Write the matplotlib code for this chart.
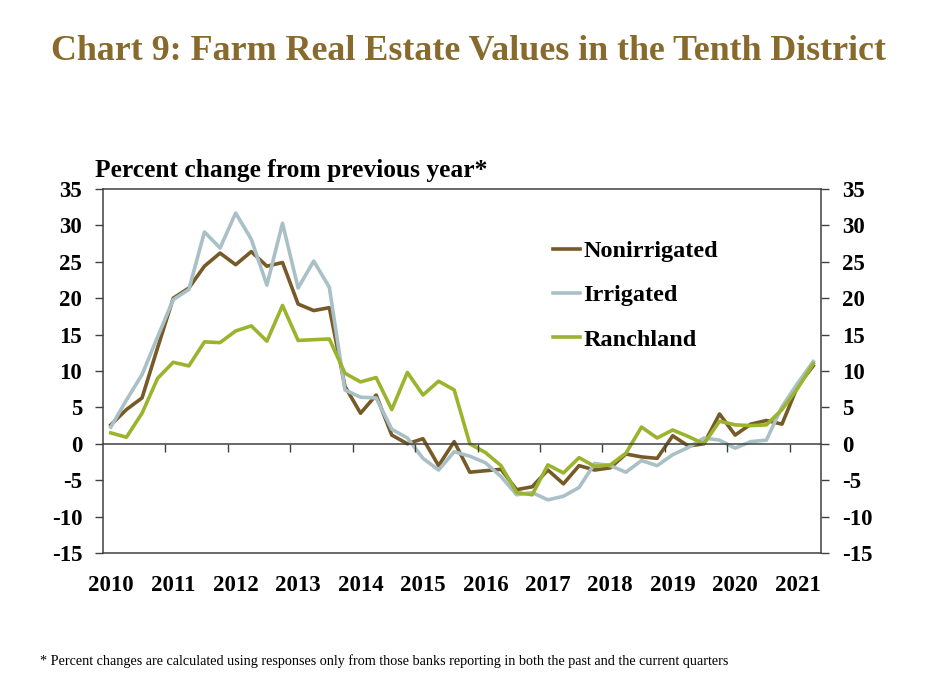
import matplotlib
matplotlib.use("Agg")
import matplotlib.pyplot as plt
import numpy as np

years = ["2010", "2011", "2012", "2013", "2014", "2015",
         "2016", "2017", "2018", "2019", "2020", "2021"]

nonirrigated = [2.6, 4.7, 6.3, 13.2, 20.0, 21.4, 24.4, 26.2, 24.6, 26.4, 24.4, 24.9,
                19.2, 18.3, 18.7, 7.9, 4.2, 6.7, 1.2, 0.0, 0.7, -3.0, 0.3, -3.9,
                -3.7, -3.5, -6.3, -5.9, -3.6, -5.5, -3.0, -3.6, -3.3, -1.4, -1.8, -2.0,
                1.1, -0.3, 0.0, 4.1, 1.2, 2.7, 3.2, 2.7, 7.9, 10.7]
irrigated = [2.3, 6.0, 9.5, 14.7, 19.8, 21.2, 29.1, 26.9, 31.7, 28.1, 21.8, 30.3,
             21.4, 25.1, 21.5, 7.4, 6.4, 6.3, 2.0, 0.8, -2.0, -3.6, -1.1, -1.7,
             -2.6, -4.5, -7.0, -6.7, -7.7, -7.2, -6.0, -2.7, -3.0, -3.9, -2.3, -3.0,
             -1.5, -0.5, 0.8, 0.5, -0.6, 0.3, 0.5, 5.1, 8.3, 11.3]
ranchland = [1.5, 0.9, 4.2, 9.0, 11.2, 10.7, 14.0, 13.9, 15.5, 16.2, 14.1, 19.0,
             14.2, 14.3, 14.4, 9.7, 8.5, 9.1, 4.7, 9.8, 6.7, 8.6, 7.4, 0.0,
             -1.2, -3.0, -6.7, -7.0, -2.9, -4.0, -1.9, -3.1, -2.9, -1.3, 2.3, 0.8,
             1.9, 1.0, 0.0, 3.1, 2.6, 2.5, 2.6, 4.7, 7.6, 11.0]

plt.rcParams["font.family"] = ["Liberation Serif", "DejaVu Serif"]
plt.rcParams["font.weight"] = "bold"
plt.rcParams["axes.unicode_minus"] = False

W, H = 925, 693
fig = plt.figure(figsize=(W / 100, H / 100), dpi=100)
ax = fig.add_axes([103 / W, 1 - 553 / H, (821 - 103) / W, (553 - 189) / H])

q = np.arange(len(nonirrigated))
ax.plot(q, nonirrigated, color="#765a28", lw=2.6, label="Nonirrigated")
ax.plot(q, irrigated, color="#a9c0c7", lw=2.6, label="Irrigated")
ax.plot(q, ranchland, color="#9ab42e", lw=2.6, label="Ranchland")

ax.set_xlim(-0.5, len(q) - 0.5)
ax.set_ylim(-15, 35)
ax.set_yticks(np.arange(-15, 36, 5))
ax.tick_params(axis="y", which="both", direction="out", length=6, width=1,
               color="#404040", labelsize=16.5, pad=9, left=True, right=True,
               labelleft=True, labelright=True)
ax.set_xticks(np.arange(0, len(q), 4))
ax.set_xticklabels(years)
ax.tick_params(axis="x", length=0, labelsize=16.5, pad=16)
for s in ax.spines.values():
    s.set_color("#404040")
    s.set_linewidth(1.1)

# zero line with year-boundary ticks
ax2 = ax.twiny()
ax2.set_xlim(ax.get_xlim())
for name in ["top", "left", "right"]:
    ax2.spines[name].set_visible(False)
ax2.spines["bottom"].set_position(("data", 0))
ax2.spines["bottom"].set_color("#404040")
ax2.spines["bottom"].set_linewidth(1.1)
ax2.xaxis.set_ticks_position("bottom")
ax2.set_xticks(np.arange(3.5, len(q) - 1, 4))
ax2.tick_params(axis="x", direction="out", length=6, width=1, color="#404040",
                labelbottom=False, labeltop=False)

ax.legend(loc="upper left", bbox_to_anchor=(553 / W, 1 - 240 / H),
          bbox_transform=fig.transFigure, frameon=False, fontsize=17.5,
          handlelength=1.1, handletextpad=0.15, labelspacing=0.92,
          borderpad=0, borderaxespad=0)

fig.text(468 / W, 1 - 52 / H, "Chart 9: Farm Real Estate Values in the Tenth District",
         ha="center", va="center", fontsize=25.8, color="#876a2c")
fig.text(95 / W, 1 - 171 / H, "Percent change from previous year*",
         ha="left", va="center", fontsize=18.4)
fig.text(40 / W, 1 - 661 / H,
         "* Percent changes are calculated using responses only from those banks "
         "reporting in both the past and the current quarters",
         ha="left", va="center", fontsize=10.15, fontweight="normal")

fig.savefig("out.png", dpi=100)
